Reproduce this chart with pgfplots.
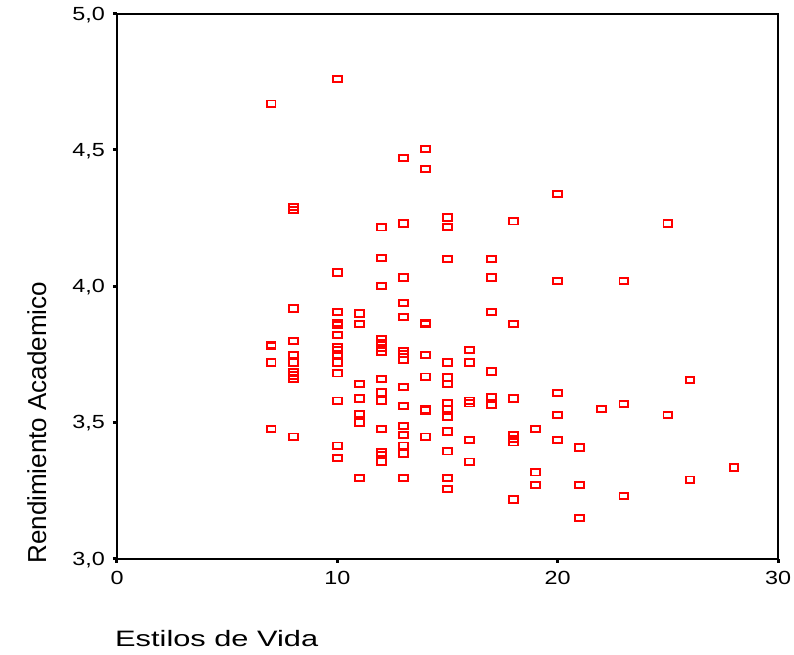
\documentclass[border=0pt]{standalone}
\usepackage{fontspec}
\setmainfont{Liberation Sans}
\usepackage{graphicx}
\usepackage{pgfplots}
\pgfplotsset{compat=1.18}
\newcommand{\tl}[1]{\scalebox{1.23}[1]{#1}}
\begin{document}
\begin{tikzpicture}
\begin{axis}[
  name=ax,
  scale only axis,
  width=661pt, height=545pt,
  xmin=0, xmax=30, ymin=3, ymax=5,
  xtick={0,10,20,30},
  ytick={3,3.5,4,4.5,5},
  xticklabels={\tl{0},\tl{10},\tl{20},\tl{30}},
  yticklabels={\tl{3,0},\tl{3,5},\tl{4,0},\tl{4,5},\tl{5,0}},
  tick align=outside,
  major tick length=4pt,
  tick style={line width=3pt, black},
  xtick pos=bottom, ytick pos=left,
  axis line style={line width=2.2pt, black},
  ticklabel style={font=\fontsize{19}{19}\selectfont, inner sep=0pt},
  yticklabel style={anchor=east, xshift=-8pt, yshift=-1pt},
  xticklabel style={anchor=north, yshift=-8pt},
  xlabel={\scalebox{1.38}[1]{Estilos de Vida}},
  ylabel={Rendimiento Academico},
  xlabel style={font=\fontsize{22.3}{22.3}\selectfont, at={(axis description cs:0,-0.1615)}, anchor=base west, inner sep=0pt, xshift=-2pt},
  ylabel style={font=\fontsize{26}{26}\selectfont, at={(axis description cs:-0.1074,0.2495)}, anchor=base, inner sep=0pt},
  clip=false,
]
\addplot[only marks, mark=square, mark size=4.3pt, color=red, line width=1.9pt,
  mark options={draw=red, fill=none, yscale=0.73}] table {
x y
7 4.67
7 3.785
7 3.78
7 3.72
7 3.475
8 4.29
8 4.28
8 3.918
8 3.80
8 3.748
8 3.72
8 3.684
8 3.672
8 3.66
8 3.448
10 4.76
10 4.05
10 3.906
10 3.865
10 3.858
10 3.82
10 3.775
10 3.765
10 3.75
10 3.72
10 3.68
10 3.58
10 3.415
10 3.37
11 3.90
11 3.861
11 3.641
11 3.588
11 3.531
11 3.50
11 3.296
12 4.216
12 4.103
12 4.0
12 3.806
12 3.79
12 3.774
12 3.76
12 3.66
12 3.61
12 3.58
12 3.475
12 3.39
12 3.38
12 3.356
13 4.47
13 4.23
13 4.032
13 3.938
13 3.886
13 3.763
13 3.75
13 3.73
13 3.629
13 3.56
13 3.488
13 3.454
13 3.415
13 3.386
13 3.296
14 4.504
14 4.43
14 3.866
14 3.862
14 3.748
14 3.668
14 3.548
14 3.544
14 3.448
15 4.252
15 4.218
15 4.10
15 3.72
15 3.665
15 3.64
15 3.571
15 3.55
15 3.52
15 3.467
15 3.394
15 3.296
15 3.256
16 3.767
16 3.72
16 3.58
16 3.57
16 3.436
16 3.356
17 4.10
17 4.032
17 3.906
17 3.687
17 3.594
17 3.565
18 4.238
18 3.861
18 3.588
18 3.455
18 3.44
18 3.427
18 3.217
19 3.476
19 3.317
19 3.27
20 4.338
20 4.02
20 3.608
20 3.528
20 3.436
21 3.408
21 3.27
21 3.149
22 3.549
23 4.02
23 3.568
23 3.229
25 4.23
25 3.528
26 3.656
26 3.29
28 3.335
};
\end{axis}
\pgfresetboundingbox
\path ([xshift=-117pt,yshift=-96pt]ax.south west) rectangle ([xshift=16pt,yshift=13.7pt]ax.north east);
\end{tikzpicture}
\end{document}
